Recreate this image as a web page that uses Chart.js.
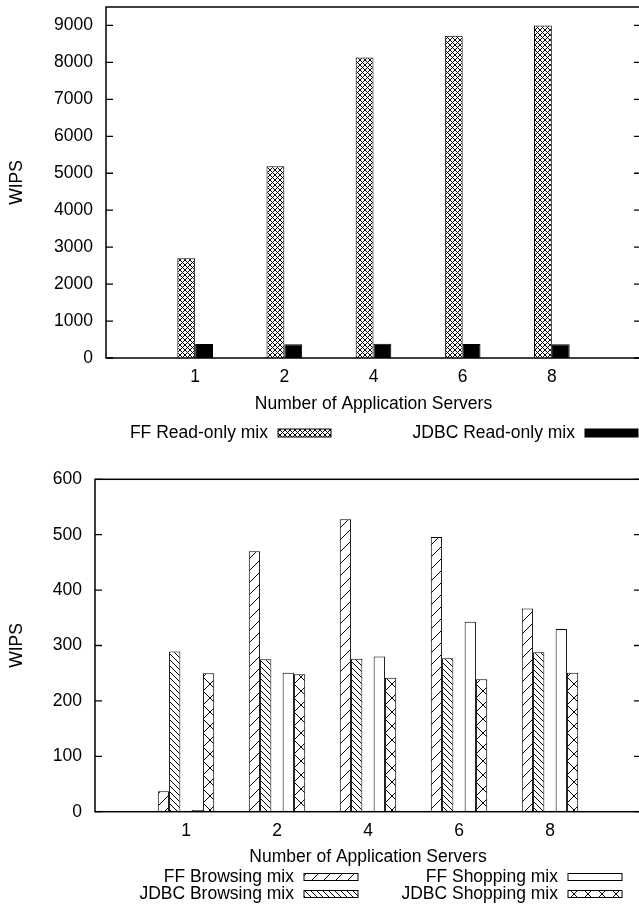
<!DOCTYPE html>
<html><head><meta charset="utf-8">
<script src="https://cdn.jsdelivr.net/npm/chart.js@4.4.0/dist/chart.umd.min.js"></script>
<style>
html,body{margin:0;padding:0;background:#fff;width:639px;height:922px;overflow:hidden;}
#c1{position:absolute;left:0;top:0;width:650px;height:460px;}
#c2{position:absolute;left:0;top:460px;width:650px;height:462px;}
</style></head><body>
<canvas id="c1" width="650" height="460"></canvas>
<canvas id="c2" width="650" height="462"></canvas>
<script>
// ---- data ----
const categories = ['1', '2', '4', '6', '8'];
const ffReadOnly = [2700, 5190, 8130, 8720, 9000];
const jdbcReadOnly = [380, 375, 385, 380, 375];
const topYTicks = [0, 1000, 2000, 3000, 4000, 5000, 6000, 7000, 8000, 9000];

const ffBrowsing = [37, 470, 528, 496, 367];
const jdbcBrowsing = [289, 275, 276, 277, 288];
const ffShopping = [3, 251, 280, 343, 330];
const jdbcShopping = [250, 248, 242, 239, 251];
const bottomYTicks = [0, 100, 200, 300, 400, 500, 600];

const xTitle = 'Number of Application Servers';
const yTitle = 'WIPS';

// ---- helpers ----
const FONT = {family: "'Liberation Sans', Arial, sans-serif", size: 17.5};
const labels = ['', ...categories, ''];
const pad = arr => [null, ...arr, null];

function makePattern(w, h, kind) {
  const c = document.createElement('canvas');
  c.width = w; c.height = h;
  const g = c.getContext('2d');
  g.fillStyle = '#fff'; g.fillRect(0, 0, w, h);
  g.strokeStyle = '#000'; g.lineWidth = 1;
  g.beginPath();
  for (let k = -1; k <= 1; k++) {
    if (kind === '/' || kind === 'x') { g.moveTo(k * w, h); g.lineTo(k * w + w, 0); }
    if (kind === '\\' || kind === 'x') { g.moveTo(k * w, 0); g.lineTo(k * w + w, h); }
  }
  g.stroke();
  return g.createPattern(c, 'repeat');
}
const pFineCross = makePattern(5, 5, 'x');
const pSlash = makePattern(12, 12, '/');
const pBack = makePattern(6, 6, '\\');
const pBigCross = makePattern(14, 14, 'x');

function framePlugin(ticks, legend) {
  return {
    id: 'gnuframe',
    afterDraw(chart) {
      const ctx = chart.ctx, a = chart.chartArea, y = chart.scales.y;
      ctx.save();
      ctx.strokeStyle = '#000'; ctx.lineWidth = 1.5;
      ctx.strokeRect(a.left, a.top, a.right - a.left, a.bottom - a.top);
      ctx.lineWidth = 1.3;
      ctx.beginPath();
      ticks.forEach(v => {
        const py = y.getPixelForValue(v);
        ctx.moveTo(a.left, py); ctx.lineTo(a.left + 7, py);
        ctx.moveTo(a.right - 7, py); ctx.lineTo(a.right, py);
      });
      ctx.stroke();
      // key
      ctx.font = FONT.size + 'px ' + FONT.family;
      ctx.textAlign = 'right'; ctx.textBaseline = 'middle';
      legend.forEach(it => {
        ctx.fillStyle = '#000';
        ctx.fillText(it.text, it.tx, it.y);
        ctx.fillStyle = it.fill;
        ctx.fillRect(it.bx, it.y - it.bh / 2, it.bw, it.bh);
        ctx.lineWidth = 1;
        ctx.strokeRect(it.bx, it.y - it.bh / 2, it.bw, it.bh);
      });
      ctx.restore();
    }
  };
}

function baseOptions(yMax, yTicks, yWidth, xHeight, xTitlePad, padTop) {
  return {
    responsive: false, animation: false, devicePixelRatio: 1,
    layout: {padding: {left: 0, top: padTop, right: 9, bottom: 0}},
    plugins: {legend: {display: false}, tooltip: {enabled: false}},
    scales: {
      x: {
        type: 'category', offset: false,
        grid: {display: false, drawTicks: false}, border: {display: false},
        ticks: {font: FONT, color: '#000', padding: 9, maxRotation: 0, autoSkip: false},
        title: {display: true, text: xTitle, font: FONT, color: '#000', padding: {top: 0, bottom: xTitlePad}},
        afterFit(s) { s.height = xHeight; s.paddingLeft = 0; s.paddingRight = 0; }
      },
      y: {
        min: 0, max: yMax,
        afterBuildTicks(s) { s.ticks = yTicks.map(v => ({value: v})); },
        grid: {display: false, drawTicks: false}, border: {display: false},
        ticks: {font: FONT, color: '#000', padding: 13, callback: v => String(v)},
        title: {display: true, text: yTitle, font: FONT, color: '#000', padding: {top: 6.5, bottom: 0}},
        afterFit(s) { s.width = yWidth; s.paddingTop = 0; s.paddingBottom = 0; }
      }
    }
  };
}

// ---- top chart ----
const o1 = baseOptions(9500, topYTicks, 106, 102, 45.5, 7);
new Chart(document.getElementById('c1'), {
  type: 'bar',
  data: {
    labels,
    datasets: [
      {label: 'FF Read-only mix', data: pad(ffReadOnly), backgroundColor: pFineCross, borderColor: '#000', borderWidth: 1,
       categoryPercentage: 0.40, barPercentage: 1},
      {label: 'JDBC Read-only mix', data: pad(jdbcReadOnly), backgroundColor: '#000', borderColor: '#000', borderWidth: 1,
       categoryPercentage: 0.40, barPercentage: 1}
    ]
  },
  options: o1,
  plugins: [framePlugin(topYTicks, [
    {text: 'FF Read-only mix', tx: 268, y: 433, bx: 278, bw: 53, bh: 8, fill: pFineCross},
    {text: 'JDBC Read-only mix', tx: 575, y: 433, bx: 585, bw: 53, bh: 8, fill: '#000'}
  ])]
});

// ---- bottom chart ----
const o2 = baseOptions(600, bottomYTicks, 95, 110.3, 54.5, 19.3);
const bs = {borderColor: '#000', borderWidth: 1, categoryPercentage: 0.62, barPercentage: 1};
new Chart(document.getElementById('c2'), {
  type: 'bar',
  data: {
    labels,
    datasets: [
      Object.assign({label: 'FF Browsing mix', data: pad(ffBrowsing), backgroundColor: pSlash}, bs),
      Object.assign({label: 'JDBC Browsing mix', data: pad(jdbcBrowsing), backgroundColor: pBack}, bs),
      Object.assign({label: '', data: labels.map(() => null), backgroundColor: 'rgba(0,0,0,0)'}, bs),
      Object.assign({label: 'FF Shopping mix', data: pad(ffShopping), backgroundColor: '#fff'}, bs),
      Object.assign({label: 'JDBC Shopping mix', data: pad(jdbcShopping), backgroundColor: pBigCross}, bs)
    ]
  },
  options: o2,
  plugins: [framePlugin(bottomYTicks, [
    {text: 'FF Browsing mix', tx: 294, y: 417, bx: 304, bw: 54, bh: 7, fill: pSlash},
    {text: 'JDBC Browsing mix', tx: 294, y: 434, bx: 304, bw: 54, bh: 7, fill: pBack},
    {text: 'FF Shopping mix', tx: 558, y: 417, bx: 568, bw: 54, bh: 7, fill: '#fff'},
    {text: 'JDBC Shopping mix', tx: 558, y: 434, bx: 568, bw: 54, bh: 7, fill: pBigCross}
  ])]
});
</script>
</body></html>
